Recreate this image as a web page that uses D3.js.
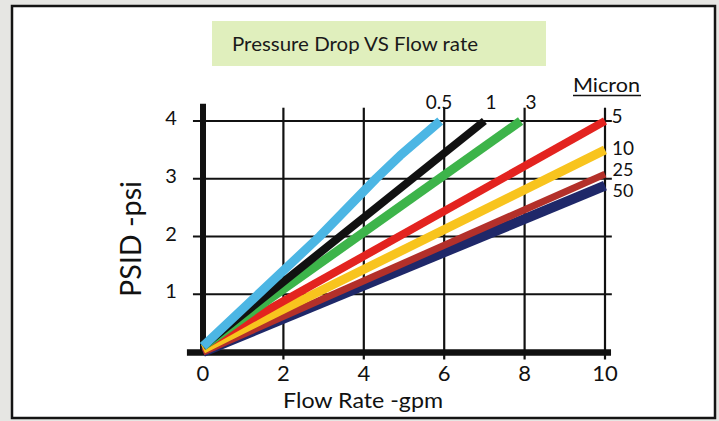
<!DOCTYPE html>
<html>
	<head>
		<meta charset="utf-8">
		<style type="text/css">
			body  { margin: 0; background: #e6e6e3; }
			svg   { display: block; font-family: Lato, "Open Sans", sans-serif; }
		</style>
		<title>Pressure Drop VS Flow rate</title>
	</head>
	<body>
		<script src="https://cdn.jsdelivr.net/npm/d3@7"></script>
		<script>

// data /////////////////////////////////////////////////////////////////////

var microns = ["0.5", "1", "3", "5", "10", "25", "50"];

// [flow gpm, psid] per micron rating
var s05 = [[0, 0.1], [2.9, 2], [4.3, 3], [4.9, 3.4], [5.9, 4]];
var s1  = [[0, 0.1], [7.0, 4]];
var s3  = [[0, 0.1], [7.9, 4]];
var s5  = [[0, 0.1], [10, 4]];
var s10 = [[0, 0.05], [10, 3.5]];
var s25 = [[0, 0], [10, 3.08]];
var s50 = [[0, 0], [10, 2.88]];
var series = [s05, s1, s3, s5, s10, s25, s50];

var xTicks = [0, 2, 4, 6, 8, 10];
var yTicks = [1, 2, 3, 4];

// styles
var colors = ["#4cb6e4", "#111111", "#3db44a", "#e3231f", "#f8c41e", "#b3302a", "#1f2869"];
var widths = [9, 8, 9, 8, 9, 7, 10];

// helpers //////////////////////////////////////////////////////////////////

var W = 719, H = 421;

var svg = d3.select('body').append('svg')
	.attr('width', W)
	.attr('height', H);

var x = d3.scaleLinear().domain([0, 10]).range([203, 605]);
var y = d3.scaleLinear().domain([0, 4]).range([352, 121]);

// frame
svg.append('rect')
	.attr('x', 12).attr('y', 6)
	.attr('width', 703).attr('height', 412)
	.attr('fill', '#fff')
	.attr('stroke', '#141414')
	.attr('stroke-width', 2.5);

// title box
svg.append('rect')
	.attr('x', 212).attr('y', 21)
	.attr('width', 334).attr('height', 45)
	.attr('fill', '#e0efbd');
svg.append('text')
	.attr('x', 232).attr('y', 51)
	.attr('font-size', 20)
	.attr('textLength', 246)
	.attr('lengthAdjust', 'spacingAndGlyphs')
	.attr('fill', '#1a1a1a')
	.text('Pressure Drop VS Flow rate');

// grid
var grid = svg.append('g').attr('stroke', '#111').attr('stroke-width', 2.2);
grid.selectAll('.vx')
	.data(xTicks.slice(1))
	.join('line')
		.attr('x1', d => x(d)).attr('x2', d => x(d))
		.attr('y1', y(-0.13)).attr('y2', y(4.23));
grid.selectAll('.hy')
	.data(yTicks)
	.join('line')
		.attr('y1', d => y(d)).attr('y2', d => y(d))
		.attr('x1', x(-0.25)).attr('x2', x(10.17));

// axes
svg.append('line')
	.attr('x1', x(0)).attr('x2', x(0))
	.attr('y1', y(-0.05)).attr('y2', y(4.3))
	.attr('stroke', '#111').attr('stroke-width', 6);
svg.append('line')
	.attr('x1', x(-0.4)).attr('x2', x(10.15))
	.attr('y1', y(-0.01)).attr('y2', y(-0.01))
	.attr('stroke', '#111').attr('stroke-width', 6.5);

// series
var line = d3.line().x(d => x(d[0])).y(d => y(d[1]));
var order = [6, 5, 4, 3, 2, 1, 0];
svg.append('g').selectAll('path')
	.data(order)
	.join('path')
		.attr('d', i => line(series[i]))
		.attr('fill', 'none')
		.attr('stroke', i => colors[i])
		.attr('stroke-width', i => widths[i])
		.attr('stroke-linejoin', 'round');

// tick labels
svg.append('g').selectAll('text')
	.data(xTicks)
	.join('text')
		.attr('x', d => x(d))
		.attr('y', 381)
		.attr('text-anchor', 'middle')
		.attr('font-size', 22)
		.attr('fill', '#111')
		.text(d => d);
svg.append('g').selectAll('text')
	.data(yTicks)
	.join('text')
		.attr('x', 171)
		.attr('y', d => y(d) + 4)
		.attr('text-anchor', 'middle')
		.attr('font-size', 20)
		.attr('fill', '#111')
		.text(d => d);

// axis titles
svg.append('text')
	.attr('x', 283).attr('y', 408)
	.attr('font-size', 22)
	.attr('textLength', 160)
	.attr('lengthAdjust', 'spacingAndGlyphs')
	.attr('fill', '#111')
	.text('Flow Rate -gpm');
svg.append('text')
	.attr('transform', 'translate(141,297) rotate(-90)')
	.attr('font-size', 29)
	.attr('textLength', 116)
	.attr('lengthAdjust', 'spacingAndGlyphs')
	.attr('fill', '#111')
	.text('PSID -psi');

// micron labels
svg.append('text')
	.attr('x', 573).attr('y', 92)
	.attr('font-size', 19)
	.attr('textLength', 67)
	.attr('lengthAdjust', 'spacingAndGlyphs')
	.attr('fill', '#111')
	.text('Micron');
svg.append('line')
	.attr('x1', 573).attr('x2', 641)
	.attr('y1', 95.5).attr('y2', 95.5)
	.attr('stroke', '#111').attr('stroke-width', 1.5);

// label positions: top row for lines ending at 4 psi, right column for the rest
var labelPos = [
	{x: 439, y: 109}, {x: 491, y: 109}, {x: 531, y: 109},
	{x: 617, y: 123}, {x: 623, y: 155}, {x: 623, y: 176}, {x: 623, y: 197}
];
svg.append('g').selectAll('text')
	.data(microns)
	.join('text')
		.attr('x', (d, i) => labelPos[i].x)
		.attr('y', (d, i) => labelPos[i].y)
		.attr('text-anchor', 'middle')
		.attr('font-size', (d, i) => i > 4 ? 18 : 19)
		.attr('fill', '#111')
		.text(d => d);

		</script>
	</body>
</html>
